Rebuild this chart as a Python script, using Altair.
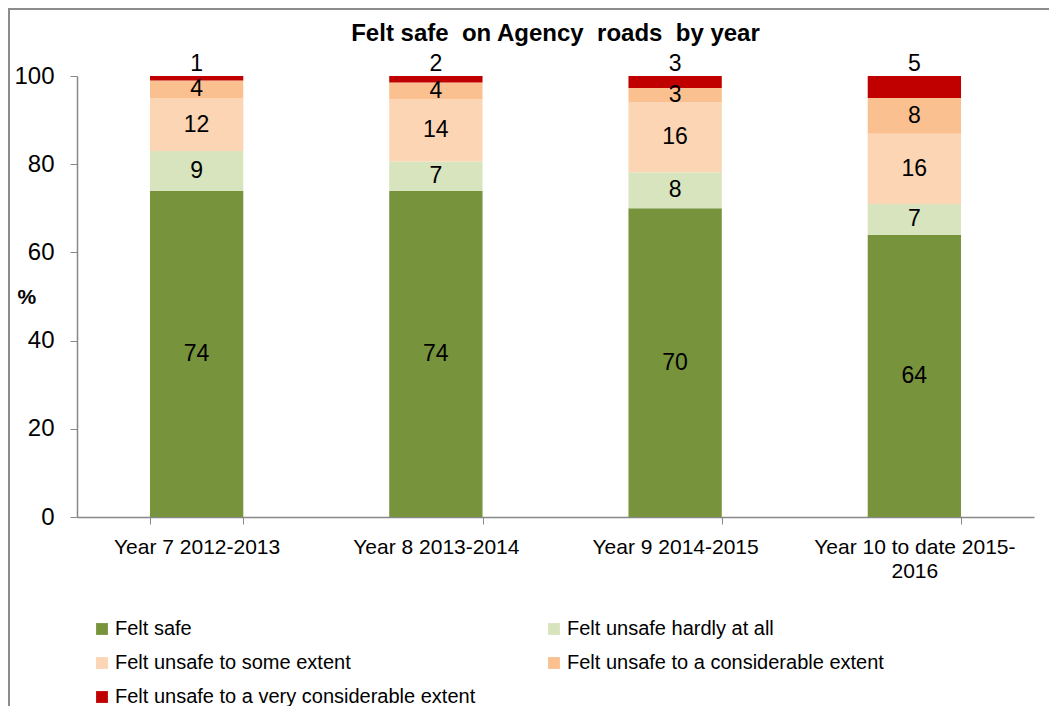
import altair as alt
import pandas as pd

years = ["Year 7 2012-2013", "Year 8 2013-2014", "Year 9 2014-2015", "Year 10 to date 2015-2016"]
categories = [
    "Felt safe",
    "Felt unsafe hardly at all",
    "Felt unsafe to some  extent",
    "Felt unsafe to a considerable extent",
    "Felt unsafe to a very considerable extent",
]
colors = ["#77933C", "#D7E4BD", "#FCD5B5", "#FAC090", "#C00000"]

felt_safe = [74.0, 74.0, 70.0, 64.0]
hardly = [9.0, 6.6, 8.2, 7.0]
some_extent = [12.0, 14.2, 15.9, 15.9]
considerable = [4.0, 3.7, 3.2, 8.1]
very_considerable = [1.0, 1.5, 2.7, 5.0]

series = [felt_safe, hardly, some_extent, considerable, very_considerable]
rows = []
for ci, (cat, vals) in enumerate(zip(categories, series)):
    for yi, (yr, v) in enumerate(zip(years, vals)):
        rows.append({"year": yr, "category": cat, "value": v, "order": ci})
df = pd.DataFrame(rows)

FONT = "Liberation Sans"
TITLE = "Felt safe\u00a0 on Agency\u00a0 roads\u00a0 by year"

base = alt.Chart(df).transform_stack(
    stack="value", groupby=["year"], sort=[alt.SortField("order", "ascending")], as_=["y0", "y1"]
).transform_calculate(
    mid="(datum.y0 + datum.y1) / 2",
    label="format(round(datum.value), 'd')",
)

x_enc = alt.X(
    "year:N",
    sort=years,
    title=None,
    scale=alt.Scale(paddingInner=0.61, paddingOuter=0.305),
    axis=alt.Axis(
        labelAngle=0,
        labelFontSize=21,
        labelFont=FONT,
        labelColor="#000",
        labelPadding=12,
        labelLineHeight=24,
        tickBand="extent",
        tickSize=7,
        tickColor="#888",
        domainColor="#888",
        domainWidth=1.5,
        labelLimit=0,
        labelExpr="datum.label == 'Year 10 to date 2015-2016' ? ['Year 10 to date 2015-', '2016'] : datum.label",
    ),
)

bars = base.mark_bar().encode(
    x=x_enc,
    y=alt.Y(
        "y0:Q",
        title="%",
        scale=alt.Scale(domain=[0, 100], nice=False),
        axis=alt.Axis(
            values=[0, 20, 40, 60, 80, 100],
            grid=False,
            labelFontSize=24,
            labelFont=FONT,
            labelColor="#000",
            labelPadding=16,
            tickSize=7,
            tickColor="#888",
            domainColor="#888",
            domainWidth=1.5,
            titleAngle=0,
            titleFontSize=21,
            titleFont=FONT,
            titleFontWeight="bold",
            titleColor="#000",
            titleAlign="left",
            titleBaseline="middle",
            titleX=-60,
            titleY=221,
        ),
    ),
    y2="y1:Q",
    color=alt.Color(
        "category:N",
        sort=categories,
        scale=alt.Scale(domain=categories, range=colors),
        legend=alt.Legend(
            title=None,
            orient="none",
            direction="horizontal",
            legendX=15,
            legendY=543,
            columns=2,
            columnPadding=68,
            rowPadding=14,
            symbolType="square",
            symbolSize=140,
            symbolStrokeWidth=0,
            labelFontSize=20,
            labelFont=FONT,
            labelColor="#000",
            labelLimit=0,
            labelOffset=3,
            gridAlign="all",
        ),
    ),
)

inner_labels = base.transform_filter(
    "datum.order < 4"
).mark_text(fontSize=23, font=FONT, color="#000", baseline="middle").encode(
    x=alt.X("year:N", sort=years),
    y=alt.Y("mid:Q"),
    text="label:N",
)

top_labels = base.transform_filter(
    "datum.order == 4"
).mark_text(fontSize=23, font=FONT, color="#000", baseline="middle", dy=-12).encode(
    x=alt.X("year:N", sort=years),
    y=alt.Y("y1:Q"),
    text="label:N",
)

frame = alt.Chart(pd.DataFrame({"frame": [0]})).mark_rect(
    fill=None, stroke="#8c8c8c", strokeWidth=2
).encode(
    x=alt.value(-68), x2=alt.value(1100), y=alt.value(-67), y2=alt.value(800)
)

chart = alt.layer(frame, bars, inner_labels, top_labels).properties(
    width=957,
    height=441,
    title=alt.TitleParams(
        TITLE,
        fontSize=24,
        font=FONT,
        fontWeight="bold",
        color="#000",
        anchor="middle",
        frame="group",
        baseline="alphabetic",
        offset=0,
        dy=57,
    ),
    autosize=alt.AutoSizeParams(type="none"),
    padding={"left": 69, "top": 68, "right": 15, "bottom": 189},
).configure_view(stroke=None)

chart.save("out.html", embed_options={"renderer": "svg", "actions": False})
